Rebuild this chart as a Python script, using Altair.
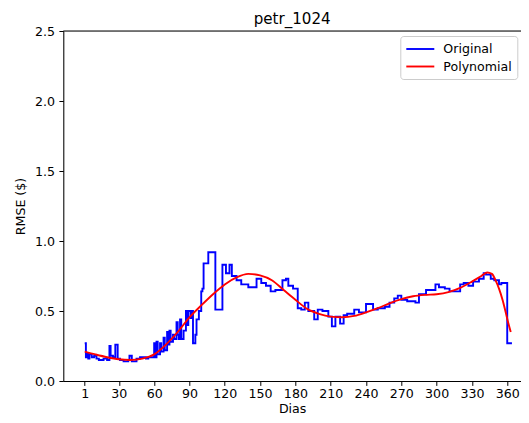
import altair as alt
import pandas as pd

# ---------------- data ----------------
orig_day = [1, 2, 3, 4, 5, 7, 9, 11, 13, 17,
            20, 22, 23, 25, 27, 29, 31, 34, 38, 39,
            41, 45, 48, 53, 55, 58, 60, 61, 62, 63,
            65, 66, 68, 69, 71, 72, 73, 74, 76, 77,
            79, 80, 81, 82, 83, 85, 87, 88, 89, 91,
            92, 93, 95, 96, 98, 100, 101, 102, 106, 112,
            118, 121, 124, 126, 130, 134, 140, 147, 151, 155,
            159, 163, 169, 172, 174, 178, 182, 185, 188, 191,
            196, 199, 203, 208, 211, 214, 218, 221, 224, 230,
            234, 240, 246, 250, 256, 260, 264, 267, 270, 275,
            282, 285, 291, 299, 302, 307, 311, 320, 323, 327,
            331, 336, 340, 342, 346, 349, 353, 355, 360, 364]
orig_val = [0.27, 0.17, 0.20, 0.16, 0.19, 0.17, 0.18, 0.16, 0.15, 0.16,
            0.15, 0.25, 0.18, 0.17, 0.26, 0.16, 0.15, 0.14, 0.15, 0.18,
            0.14, 0.16, 0.17, 0.16, 0.17, 0.17, 0.27, 0.17, 0.28, 0.19,
            0.27, 0.21, 0.31, 0.22, 0.35, 0.26, 0.36, 0.28, 0.33, 0.30,
            0.42, 0.33, 0.30, 0.44, 0.30, 0.36, 0.50, 0.40, 0.50, 0.45,
            0.50, 0.27, 0.33, 0.44, 0.50, 0.64, 0.66, 0.84, 0.92, 0.51,
            0.83, 0.77, 0.83, 0.75, 0.72, 0.69, 0.67, 0.73, 0.70, 0.68,
            0.64, 0.65, 0.72, 0.73, 0.68, 0.66, 0.52, 0.51, 0.56, 0.50,
            0.44, 0.51, 0.50, 0.46, 0.39, 0.46, 0.41, 0.47, 0.48, 0.51,
            0.49, 0.55, 0.51, 0.52, 0.53, 0.56, 0.59, 0.61, 0.58, 0.57,
            0.56, 0.62, 0.65, 0.69, 0.67, 0.66, 0.64, 0.69, 0.70, 0.68,
            0.71, 0.73, 0.77, 0.76, 0.73, 0.72, 0.69, 0.70, 0.27, 0.27]

poly_day = [1, 10, 20, 30, 40, 50, 60, 70, 80, 90,
            100, 110, 120, 130, 140, 150, 160, 170, 180, 190,
            200, 210, 220, 230, 240, 250, 260, 270, 280, 290,
            300, 310, 320, 330, 338, 343, 347, 350, 353, 356,
            359, 361, 363]
poly_val = [0.21, 0.19, 0.17, 0.155, 0.15, 0.16, 0.19, 0.26, 0.35, 0.455,
            0.54, 0.62, 0.69, 0.74, 0.765, 0.755, 0.72, 0.65, 0.58, 0.515,
            0.48, 0.46, 0.455, 0.465, 0.49, 0.52, 0.555, 0.585, 0.605, 0.615,
            0.62, 0.635, 0.665, 0.71, 0.75, 0.775, 0.765, 0.72, 0.66, 0.58,
            0.48, 0.41, 0.35]

x_ticks = [1, 30, 60, 90, 120, 150, 180, 210, 240, 270, 300, 330, 360]
y_ticks = [0.0, 0.5, 1.0, 1.5, 2.0, 2.5]
series_names = ["Original", "Polynomial"]
series_colors = ["#0000ff", "#ff0000"]

orig_df = pd.DataFrame({"Dias": orig_day, "RMSE": orig_val, "Serie": series_names[0]})
poly_df = pd.DataFrame({"Dias": poly_day, "RMSE": poly_val, "Serie": series_names[1]})

FONT = "DejaVu Sans"
FS = 12.6

x_scale = alt.Scale(domain=[-17.2, 371.7], nice=False, zero=False)
y_scale = alt.Scale(domain=[0, 2.5], nice=False, zero=False)
color_scale = alt.Scale(domain=series_names, range=series_colors)

x_axis = alt.Axis(values=x_ticks, title="Dias", grid=False, labelFont=FONT, labelFontSize=FS,
                  titleFont=FONT, titleFontSize=FS, titleFontWeight="normal", labelColor="black",
                  titleColor="black", tickColor="black", domainColor="black", tickSize=4.4,
                  tickWidth=1, domainWidth=1, labelPadding=2.5, labelFlush=False, labelOverlap=False,
                  titleY=31.5, titleBaseline="alphabetic")
y_axis = alt.Axis(values=y_ticks, format=".1f", title="RMSE ($)", grid=False, labelFont=FONT,
                  labelFontSize=FS, titleFont=FONT, titleFontSize=FS, titleFontWeight="normal",
                  labelColor="black", titleColor="black", tickColor="black", domainColor="black",
                  tickSize=4.4, tickWidth=1, domainWidth=1, labelPadding=4.4, labelOverlap=False,
                  titleX=-43, titleY=175, titleAngle=270, titleAlign="center", titleBaseline="middle")

legend = alt.Legend(title=None, orient="none", legendX=337, legendY=5, symbolType="M-1,0H3",
                    symbolSize=196, symbolStrokeWidth=1.9, labelFont=FONT, labelFontSize=FS,
                    labelColor="black", labelOffset=22, rowPadding=2.5, padding=5,
                    fillColor="white", strokeColor="#cccccc", cornerRadius=3)

orig = alt.Chart(orig_df).mark_line(interpolate="step-after", strokeWidth=1.9, clip=True).encode(
    x=alt.X("Dias:Q", scale=x_scale, axis=x_axis),
    y=alt.Y("RMSE:Q", scale=y_scale, axis=y_axis),
    color=alt.Color("Serie:N", scale=color_scale, legend=legend),
)
poly = alt.Chart(poly_df).mark_line(interpolate="monotone", strokeWidth=1.9, clip=True).encode(
    x=alt.X("Dias:Q", scale=x_scale, axis=x_axis),
    y=alt.Y("RMSE:Q", scale=y_scale, axis=y_axis),
    color=alt.Color("Serie:N", scale=color_scale, legend=legend),
)
top_line = alt.Chart(alt.Data(values=[{}])).mark_rule(color="black", strokeWidth=1).encode(
    y=alt.datum(2.5, scale=y_scale, axis=y_axis)
)

chart = alt.layer(orig, poly, top_line).properties(
    width=457.7,
    height=350,
    title=alt.TitleParams("petr_1024", font=FONT, fontSize=15.1, fontWeight="normal",
                          color="black", anchor="middle", offset=-2.5),
    autosize=alt.AutoSizeParams(type="none"),
    padding={"left": 55.3, "top": 23, "right": 0, "bottom": 34},
).configure_view(stroke=None).configure_axis(labelOverlap=False).configure(background="white")

chart.save("out.html", embed_options={"renderer": "svg", "actions": False})
